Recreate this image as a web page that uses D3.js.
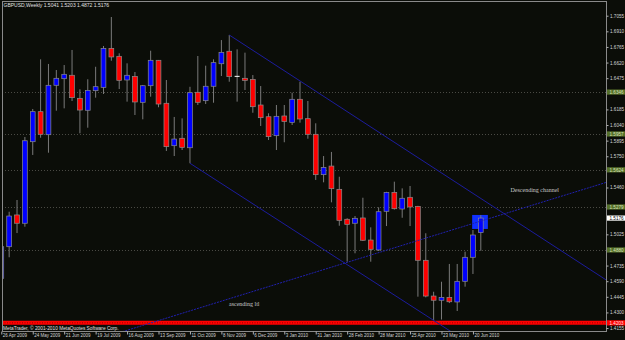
<!DOCTYPE html>
<html>
<head>
<meta charset="utf-8">
<script src="https://cdn.jsdelivr.net/npm/d3@7"></script>
<style>
body { margin: 0; background: #0b0d08; }
svg { display: block; }
</style>
</head>
<body>
<script>
var width = 625,
    height = 340,
    plotLeft = 2,
    plotTop = 1,
    plotRight = 606,
    plotBottom = 331;

// weekly GBPUSD bars, 26 Apr 2009 .. 27 Jun 2010
var opens  = [1.4617,1.4910,1.5205,1.5128,1.5885,1.6164,1.5950,1.6409,1.6470,1.6502,1.6288,1.6177,1.6359,1.6390,1.6752,1.6678,1.6458,1.6492,1.6251,1.6405,1.6641,1.6242,1.5848,1.5917,1.5829,1.6344,1.6266,1.6400,1.6609,1.6725,1.6492,1.6474,1.6464,1.6226,1.6117,1.5941,1.6124,1.6065,1.6279,1.6099,1.5954,1.5579,1.5659,1.5443,1.5165,1.5128,1.5177,1.4972,1.4880,1.5239,1.5415,1.5260,1.5369,1.5285,1.4784,1.4452,1.4413,1.4440,1.4397,1.4589,1.4812,1.5041];
var highs  = [1.4972,1.5235,1.5344,1.5929,1.6189,1.6650,1.6607,1.6551,1.6597,1.6737,1.6372,1.6465,1.6581,1.6774,1.7043,1.6706,1.6613,1.6532,1.6412,1.6730,1.6644,1.6458,1.6115,1.6102,1.6395,1.6681,1.6591,1.6650,1.6829,1.6876,1.6743,1.6712,1.6504,1.6402,1.6149,1.6226,1.6226,1.6340,1.6442,1.6263,1.6056,1.5752,1.5790,1.5560,1.5174,1.5195,1.5365,1.5090,1.5276,1.5420,1.5514,1.5452,1.5474,1.5290,1.5035,1.4492,1.4585,1.4750,1.4750,1.4864,1.5065,1.5203];
var lows   = [1.4508,1.4812,1.5037,1.5096,1.5762,1.5922,1.5783,1.6173,1.6195,1.6263,1.5963,1.6015,1.6294,1.6328,1.6637,1.6374,1.6257,1.6133,1.6093,1.6303,1.6205,1.5799,1.5752,1.5808,1.5685,1.6226,1.6235,1.6247,1.6495,1.6442,1.6257,1.6365,1.6154,1.6031,1.5901,1.5808,1.5880,1.6040,1.6062,1.5913,1.5530,1.5508,1.5322,1.5105,1.4771,1.4849,1.4963,1.4771,1.4870,1.5102,1.5255,1.5179,1.5102,1.4446,1.4440,1.4229,1.4234,1.4387,1.4313,1.4539,1.4657,1.4872];
var closes = [1.4910,1.5195,1.5128,1.5894,1.6164,1.5954,1.6409,1.6474,1.6511,1.6294,1.6179,1.6362,1.6396,1.6752,1.6672,1.6455,1.6502,1.6254,1.6405,1.6641,1.6235,1.5839,1.5910,1.5833,1.6340,1.6251,1.6400,1.6619,1.6715,1.6489,1.6492,1.6455,1.6210,1.6108,1.5932,1.6121,1.6074,1.6279,1.6096,1.5954,1.5579,1.5647,1.5449,1.5155,1.5118,1.5174,1.4970,1.4886,1.5235,1.5415,1.5263,1.5360,1.5279,1.4784,1.4452,1.4413,1.4440,1.4399,1.4589,1.4812,1.5019,1.5176];

var dateLabels = ["26 Apr 2009","24 May 2009","21 Jun 2009","19 Jul 2009","16 Aug 2009","13 Sep 2009","11 Oct 2009","8 Nov 2009","6 Dec 2009","3 Jan 2010","31 Jan 2010","28 Feb 2010","28 Mar 2010","25 Apr 2010","23 May 2010","20 Jun 2010"];
var dateIndex = [0,4,8,12,16,20,24,28,32,36,40,44,48,52,56,60];

var priceTicks = [1.7055,1.6910,1.6765,1.6620,1.6475,1.6330,1.6185,1.6040,1.5895,1.5750,1.5605,1.5460,1.5315,1.5170,1.5025,1.4880,1.4735,1.4590,1.4445,1.4300,1.4155];

var levels = [1.6346, 1.5957, 1.5624, 1.5279, 1.4880];
var supportLevel = 1.4203;
var lastPrice = 1.5176;

// trend lines as [barIndex, price] anchor pairs
var upperChannel = [[29, 1.6876], [61, 1.5358]];
var lowerChannel = [[24, 1.5685], [56, 1.4179]];
var ascendingLine = [[44, 1.4765], [61, 1.5148]];
var highlightBox = [[59.9, 1.5205], [61.9, 1.5075]];

var bars = opens.map(function(o, i) {
    return {i: i, o: o, h: highs[i], l: lows[i], c: closes[i]};
});

var x = d3.scaleLinear().domain([0, 61]).range([1.3, 480.8]);
var y = d3.scaleLinear().domain([1.41275, 1.71916]).range([plotBottom, plotTop]);

var svg = d3.select("body").append("svg")
    .attr("width", width)
    .attr("height", height)
    .style("background", "#0b0d08");

svg.append("defs").append("clipPath").attr("id", "plot")
    .append("rect")
    .attr("x", plotLeft).attr("y", plotTop)
    .attr("width", plotRight - plotLeft).attr("height", plotBottom - plotTop);

var plot = svg.append("g").attr("clip-path", "url(#plot)");

// horizontal levels
plot.selectAll(".level")
    .data(levels)
    .enter().append("line")
    .attr("x1", plotLeft).attr("x2", plotRight)
    .attr("y1", function(d) { return Math.round(y(d)) + 0.5; })
    .attr("y2", function(d) { return Math.round(y(d)) + 0.5; })
    .attr("stroke", "#4a4a44")
    .attr("stroke-dasharray", "1,2");

plot.append("line")
    .attr("x1", plotLeft).attr("x2", plotRight)
    .attr("y1", y(supportLevel)).attr("y2", y(supportLevel))
    .attr("stroke", "#ff0000")
    .attr("stroke-width", 4);
plot.append("line")
    .attr("x1", plotLeft).attr("x2", plotRight)
    .attr("y1", y(supportLevel)).attr("y2", y(supportLevel))
    .attr("stroke", "#900000")
    .attr("stroke-width", 1)
    .attr("stroke-dasharray", "1,1.5");

// highlight box
plot.append("rect")
    .attr("x", x(highlightBox[0][0]))
    .attr("y", y(highlightBox[0][1]))
    .attr("width", x(highlightBox[1][0]) - x(highlightBox[0][0]))
    .attr("height", y(highlightBox[1][1]) - y(highlightBox[0][1]))
    .attr("fill", "#1030ff");

// candles
var candle = plot.selectAll(".bar")
    .data(bars)
    .enter().append("g");

candle.append("line")
    .attr("x1", function(d) { return x(d.i); })
    .attr("x2", function(d) { return x(d.i); })
    .attr("y1", function(d) { return y(d.h); })
    .attr("y2", function(d) { return y(d.l); })
    .attr("stroke", "#7a7a7a")
    .attr("stroke-width", 1);

candle.filter(function(d) { return d.o !== d.c; })
    .append("rect")
    .attr("x", function(d) { return x(d.i) - 2.4; })
    .attr("width", 4.8)
    .attr("y", function(d) { return y(Math.max(d.o, d.c)); })
    .attr("height", function(d) { return Math.max(1, y(Math.min(d.o, d.c)) - y(Math.max(d.o, d.c))); })
    .attr("fill", function(d) { return d.c > d.o ? "#0000ff" : "#ff0000"; })
    .attr("stroke", "#8c8c8c")
    .attr("stroke-width", 0.7);

candle.filter(function(d) { return d.o === d.c; })
    .append("line")
    .attr("x1", function(d) { return x(d.i) - 2.5; })
    .attr("x2", function(d) { return x(d.i) + 2.5; })
    .attr("y1", function(d) { return y(d.o); })
    .attr("y2", function(d) { return y(d.o); })
    .attr("stroke", "#ffffff");

// trend lines
function trend(anchors, fromStart) {
    var i0 = anchors[0][0], p0 = anchors[0][1],
        slope = (anchors[1][1] - p0) / (anchors[1][0] - i0),
        a = fromStart ? x.invert(plotLeft) : i0,
        b = x.invert(plotRight);
    return [[x(a), y(p0 + slope * (a - i0))], [x(b), y(p0 + slope * (b - i0))]];
}

var line = d3.line();

plot.append("path")
    .attr("d", line(trend(upperChannel, false)))
    .attr("stroke", "#1c1c9c").attr("fill", "none");
plot.append("path")
    .attr("d", line(trend(lowerChannel, false)))
    .attr("stroke", "#1c1c9c").attr("fill", "none");
plot.append("path")
    .attr("d", line(trend(ascendingLine, true)))
    .attr("stroke", "#2020b0").attr("fill", "none")
    .attr("stroke-dasharray", "2,1");

// frame
svg.append("rect")
    .attr("x", plotLeft + 0.5).attr("y", plotTop + 0.5)
    .attr("width", plotRight - plotLeft).attr("height", plotBottom - plotTop)
    .attr("fill", "none")
    .attr("stroke", "#8a8a8a");

// price axis; tick labels hidden under a level tag are left out
var tagged = levels.concat([lastPrice, supportLevel]);
var visibleTicks = priceTicks.filter(function(t) {
    return !tagged.some(function(p) { return Math.abs(y(p) - y(t)) < 4.5; });
});

var yAxis = svg.append("g")
    .attr("transform", "translate(" + (plotRight + 0.5) + ",0)")
    .call(d3.axisRight(y).tickValues(visibleTicks).tickSize(2).tickPadding(1.5).tickFormat(d3.format(".4f")));
yAxis.select(".domain").remove();
yAxis.selectAll("line").attr("stroke", "#b0b0b0");
yAxis.selectAll("text")
    .attr("fill", "#d4d4d4")
    .style("font", "4.6px 'Liberation Sans', sans-serif");

// level tags on the price axis
function tag(price, bg, fg) {
    var g = svg.append("g").attr("transform", "translate(" + (plotRight + 1) + "," + y(price) + ")");
    g.append("rect").attr("x", 0).attr("y", -2.6).attr("width", 18).attr("height", 5.2).attr("fill", bg);
    g.append("text").attr("x", 2.5).attr("y", 1.7)
        .attr("fill", fg)
        .style("font", "4.6px 'Liberation Sans', sans-serif")
        .text(d3.format(".4f")(price));
}
levels.forEach(function(p) { tag(p, "#56702a", "#d8e0b8"); });
tag(lastPrice, "#ffffff", "#000000");
tag(supportLevel, "#ff0000", "#ffe0e0");

// date axis
var xAxis = svg.append("g")
    .attr("transform", "translate(0," + (plotBottom + 0.5) + ")")
    .call(d3.axisBottom(x).tickValues(dateIndex).tickSize(3).tickFormat(function(d, i) { return dateLabels[i]; }));
xAxis.select(".domain").remove();
xAxis.selectAll("line").attr("stroke", "#b0b0b0");
xAxis.selectAll("text")
    .attr("text-anchor", "start")
    .attr("x", 1)
    .attr("y", 2.2)
    .attr("dy", "0.71em")
    .attr("fill", "#d4d4d4")
    .style("font", "4.5px 'Liberation Sans', sans-serif");

// texts
svg.append("text")
    .attr("x", 3.5).attr("y", 7)
    .attr("fill", "#e0e0e0")
    .style("font", "5px 'Liberation Sans', sans-serif")
    .text("GBPUSD,Weekly  1.5041 1.5203 1.4872 1.5176");

svg.append("text")
    .attr("x", 3).attr("y", 329.6)
    .attr("fill", "#e0e0e0")
    .style("font", "4.8px 'Liberation Sans', sans-serif")
    .text("MetaTrader, \u00a9 2001-2010 MetaQuotes Software Corp.");

svg.append("text")
    .attr("x", 510.5).attr("y", 192)
    .attr("fill", "#c8c8c8")
    .style("font", "6px 'Liberation Serif', serif")
    .text("Descending channel");

svg.append("text")
    .attr("x", 229).attr("y", 306)
    .attr("fill", "#c8c8c8")
    .style("font", "6px 'Liberation Serif', serif")
    .text("ascending ltl");
</script>
</body>
</html>
